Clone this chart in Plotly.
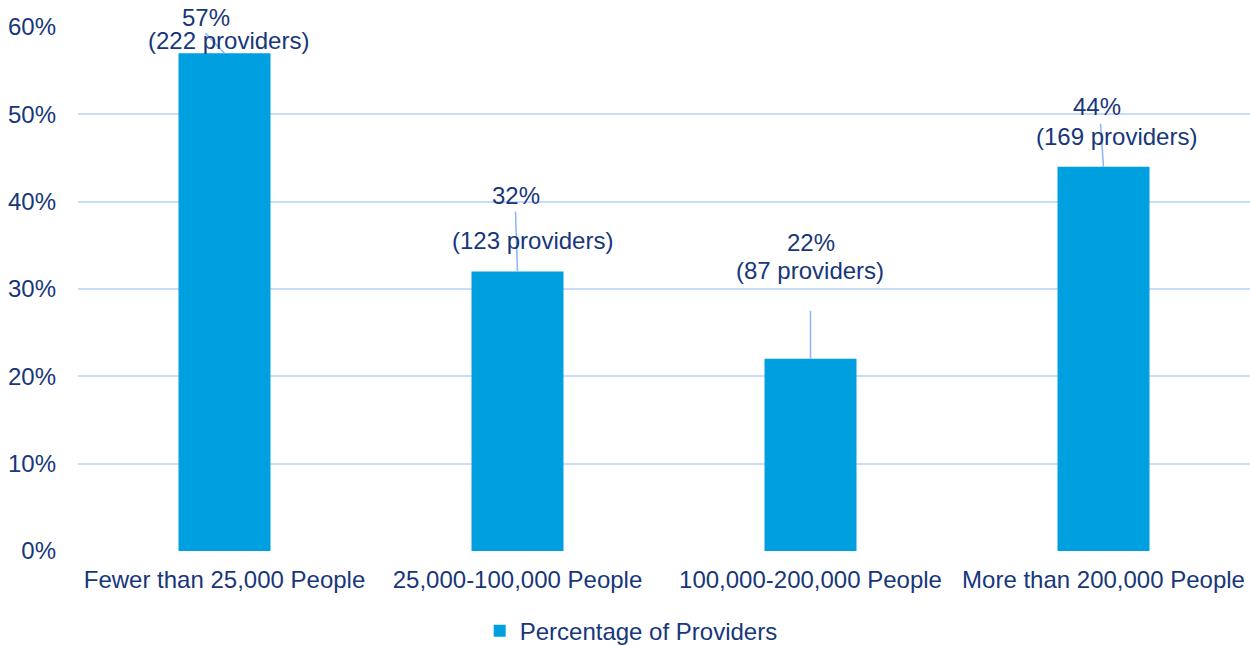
import plotly.graph_objects as go

categories = ["Fewer than 25,000 People", "25,000-100,000 People",
              "100,000-200,000 People", "More than 200,000 People"]
percentages = [57, 32, 22, 44]
providers = [222, 123, 87, 169]
series_name = "Percentage of Providers"
y_ticks = [0, 10, 20, 30, 40, 50, 60]

# label layout: pixel offsets from each bar's top-centre
pct_label_shift = [(-19, 36), (-2, 76), (0, 116), (-7, 60)]
prov_label_shift = [(4, 13), (15, 31), (-1, 88), (13, 30)]
leader_start = [(-19, 20), (-2, 60), (0, 48), (-3, 43)]

TEXT = "#17377A"
BAR = "#009FE0"
GRID = "#C8DBF9"
LEADER = "#8EB4F5"
FONT = "Liberation Sans, Arial, sans-serif"

fig = go.Figure()
fig.add_trace(go.Bar(x=categories, y=percentages, name=series_name,
                     marker=dict(color=BAR, line=dict(width=0)),
                     showlegend=True))

annotations = []
shapes = []
for i, (p, n) in enumerate(zip(percentages, providers)):
    dx, dy = pct_label_shift[i]
    annotations.append(dict(x=i, y=p, xref="x", yref="y", text=f"{p}%",
                            xshift=dx, yshift=dy,
                            showarrow=False, font=dict(size=24, color=TEXT, family=FONT),
                            xanchor="center", yanchor="middle"))
    dx, dy = prov_label_shift[i]
    annotations.append(dict(x=i, y=p, xref="x", yref="y", text=f"({n} providers)",
                            xshift=dx, yshift=dy,
                            showarrow=False, font=dict(size=24, color=TEXT, family=FONT),
                            xanchor="center", yanchor="middle"))
    sx, sy = leader_start[i]
    shapes.append(dict(type="line", xref="x", yref="y",
                       xsizemode="pixel", ysizemode="pixel", xanchor=i, yanchor=p,
                       x0=sx, y0=sy, x1=0, y1=0,
                       line=dict(color=LEADER, width=1.5), layer="above"))

fig.update_layout(
    width=1250, height=646,
    margin=dict(l=78, r=0, t=27, b=95, autoexpand=False),
    paper_bgcolor="white", plot_bgcolor="white",
    font=dict(family=FONT, size=24, color=TEXT),
    bargap=0.686,
    annotations=annotations,
    shapes=shapes,
    legend=dict(orientation="h", x=0.472, xanchor="center", y=-0.153, yanchor="middle",
                font=dict(size=24, color=TEXT, family=FONT)),
    xaxis=dict(showgrid=False, showline=False, zeroline=False, ticks="",
               ticklabelstandoff=12, tickfont=dict(size=24, color=TEXT)),
    yaxis=dict(range=[0, 60], tickmode="array", tickvals=y_ticks,
               ticktext=[f"{v}%" for v in y_ticks], showgrid=True,
               gridcolor=GRID, gridwidth=1.6, zeroline=False, showline=False, ticks="",
               ticklabelstandoff=21, tickfont=dict(size=24, color=TEXT)),
)

fig.write_html("out.html", config={"displayModeBar": False},
               post_script="document.body.style.margin='0';document.body.style.overflow='hidden';")
